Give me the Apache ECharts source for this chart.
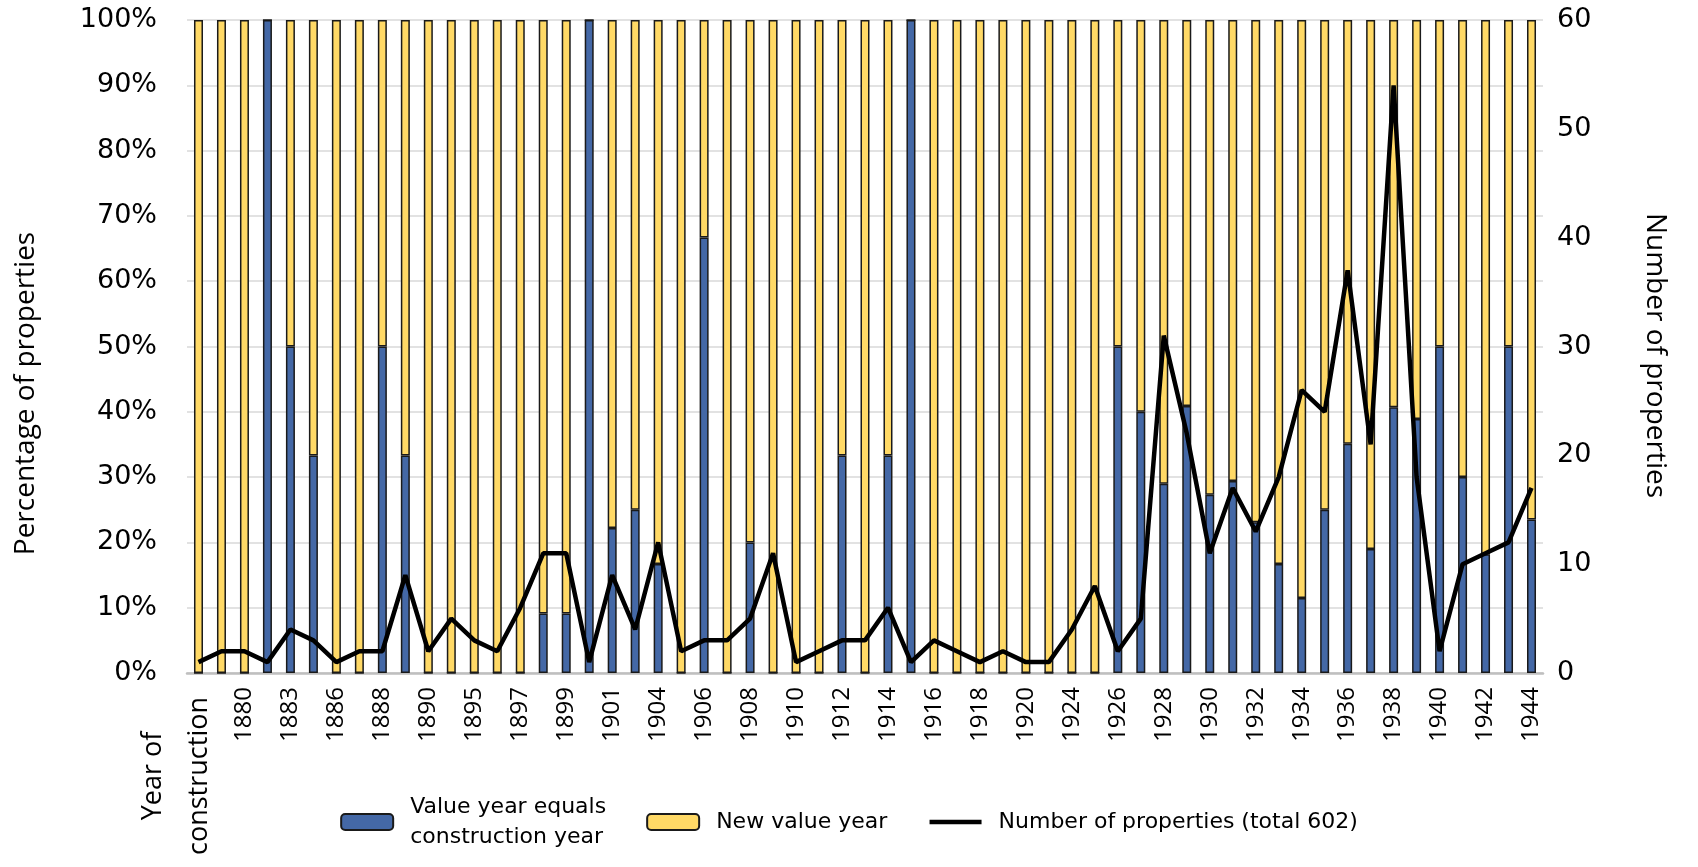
<!DOCTYPE html>
<html>
<head>
<meta charset="utf-8">
<title>Value year vs construction year</title>
<script src="https://cdn.jsdelivr.net/npm/echarts@6/dist/echarts.min.js"></script>
<style>
  html, body { margin: 0; padding: 0; background: #fff; }
  #chart { width: 1698px; height: 867px; }
</style>
</head>
<body>
<div id="chart"></div>
<script>
// categories (only every second one gets a label, like the original);
// the first one carries the axis caption instead of a year
var years = ['Year of\nconstruction', '1879', '1880', '1882', '1883', '1885', '1886', '1887', '1888', '1889',
  '1890', '1892', '1895', '1896', '1897', '1898', '1899', '1900', '1901', '1903',
  '1904', '1905', '1906', '1907', '1908', '1909', '1910', '1911', '1912', '1913',
  '1914', '1915', '1916', '1917', '1918', '1919', '1920', '1922', '1924', '1925',
  '1926', '1927', '1928', '1929', '1930', '1931', '1932', '1933', '1934', '1935',
  '1936', '1937', '1938', '1939', '1940', '1941', '1942', '1943', '1944'];

// share (%) where value year equals construction year
var sameYearPct = [0, 0, 0, 100, 50, 33.3, 0, 0, 50, 33.3,
  0, 0, 0, 0, 0, 9.1, 9.1, 100, 22.2, 25,
  16.7, 0, 66.7, 0, 20, 0, 0, 0, 33.3, 0,
  33.3, 100, 0, 0, 0, 0, 0, 0, 0, 0,
  50, 40, 29, 40.9, 27.3, 29.4, 23.1, 16.7, 11.5, 25,
  35.1, 19, 40.7, 38.9, 50, 30, 18.2, 50, 23.5];

// share (%) with a new value year
var newYearPct = [100, 100, 100, 0, 50, 66.7, 100, 100, 50, 66.7,
  100, 100, 100, 100, 100, 90.9, 90.9, 0, 77.8, 75,
  83.3, 100, 33.3, 100, 80, 100, 100, 100, 66.7, 100,
  66.7, 0, 100, 100, 100, 100, 100, 100, 100, 100,
  50, 60, 71, 59.1, 72.7, 70.6, 76.9, 83.3, 88.5, 75,
  64.9, 81, 59.3, 61.1, 50, 70, 81.8, 50, 76.5];

// number of properties per year
var propCount = [1, 2, 2, 1, 4, 3, 1, 2, 2, 9,
  2, 5, 3, 2, 6, 11, 11, 1, 9, 4,
  12, 2, 3, 3, 5, 11, 1, 2, 3, 3,
  6, 1, 3, 2, 1, 2, 1, 1, 4, 8,
  2, 5, 31, 22, 11, 17, 13, 18, 26, 24,
  37, 21, 54, 18, 2, 10, 11, 12, 17];

var myChart = echarts.init(document.getElementById('chart'));
var fontFam = 'Open Sans';
var wideFam = 'DejaVu Sans';

var option = {
  backgroundColor: '#fff',
  animation: false,
  textStyle: { fontFamily: fontFam, color: '#000' },
  grid: { left: 187, right: 155, top: 20, bottom: 194 },
  legend: {
    bottom: 10,
    left: 'center',
    itemWidth: 52,
    itemHeight: 16,
    itemGap: 40,
    textStyle: { fontSize: 22, color: '#000', fontFamily: wideFam, lineHeight: 30, padding: [0, 0, 0, 12] },
    data: [
      'Value year equals\nconstruction year',
      'New value year',
      { name: 'Number of properties (total 602)', itemStyle: { opacity: 0 }, lineStyle: { width: 4.5, color: '#000' } }
    ]
  },
  xAxis: [{
    type: 'category',
    data: years,
    // caption drawn as axis name so it can sit two lines wide under the first bar
    name: years[0],
    nameLocation: 'start',
    nameGap: -35,
    nameRotate: 90,
    nameMoveOverlap: false,
    nameTextStyle: {
      fontSize: 27,
      fontFamily: fontFam,
      color: '#000',
      align: 'center',
      verticalAlign: 'bottom',
      lineHeight: 46,
      padding: [0, 206, 0, 0]
    },
    axisTick: { show: false },
    axisLine: { lineStyle: { color: '#bfbfbf', width: 2.5 } },
    axisLabel: {
      interval: 1,
      rotate: 90,
      fontSize: 24,
      fontFamily: fontFam,
      color: '#000',
      margin: 14,
      formatter: function (val, idx) {
        return idx === 0 ? '' : val;
      }
    }
  }],
  yAxis: [{
    type: 'value',
    min: 0,
    max: 100,
    interval: 10,
    name: 'Percentage of properties',
    nameLocation: 'middle',
    nameGap: 147,
    nameTextStyle: { fontSize: 28, fontFamily: fontFam, color: '#000', padding: [0, 94, 0, 0] },
    axisLine: { show: false },
    axisTick: { show: false },
    axisLabel: { formatter: '{value}%', fontSize: 27, fontFamily: wideFam, color: '#000', margin: 30 },
    splitLine: { lineStyle: { color: '#d9d9d9', width: 1.5 } }
  }, {
    type: 'value',
    min: 0,
    max: 60,
    interval: 10,
    name: 'Number of properties',
    nameLocation: 'middle',
    nameGap: 98,
    nameRotate: -90,
    nameTextStyle: { fontSize: 28, fontFamily: fontFam, color: '#000', padding: [0, 0, 0, 18] },
    axisLine: { show: false },
    axisTick: { show: false },
    axisLabel: { fontSize: 27, fontFamily: wideFam, color: '#000', margin: 14 },
    splitLine: { show: false }
  }],
  series: [{
    name: 'Value year equals\nconstruction year',
    type: 'bar',
    stack: 'pct',
    barWidth: 9,
    itemStyle: { color: '#4468a6', borderColor: '#1a1a1a', borderWidth: 1.5 },
    data: sameYearPct
  }, {
    name: 'New value year',
    type: 'bar',
    stack: 'pct',
    barWidth: 9,
    itemStyle: { color: '#ffd966', borderColor: '#1a1a1a', borderWidth: 1.5 },
    data: newYearPct
  }, {
    name: 'Number of properties (total 602)',
    type: 'line',
    yAxisIndex: 1,
    symbol: 'none',
    lineStyle: { color: '#000', width: 4.5 },
    itemStyle: { color: '#000' },
    data: propCount
  }]
};
myChart.setOption(option);
</script>
</body>
</html>
